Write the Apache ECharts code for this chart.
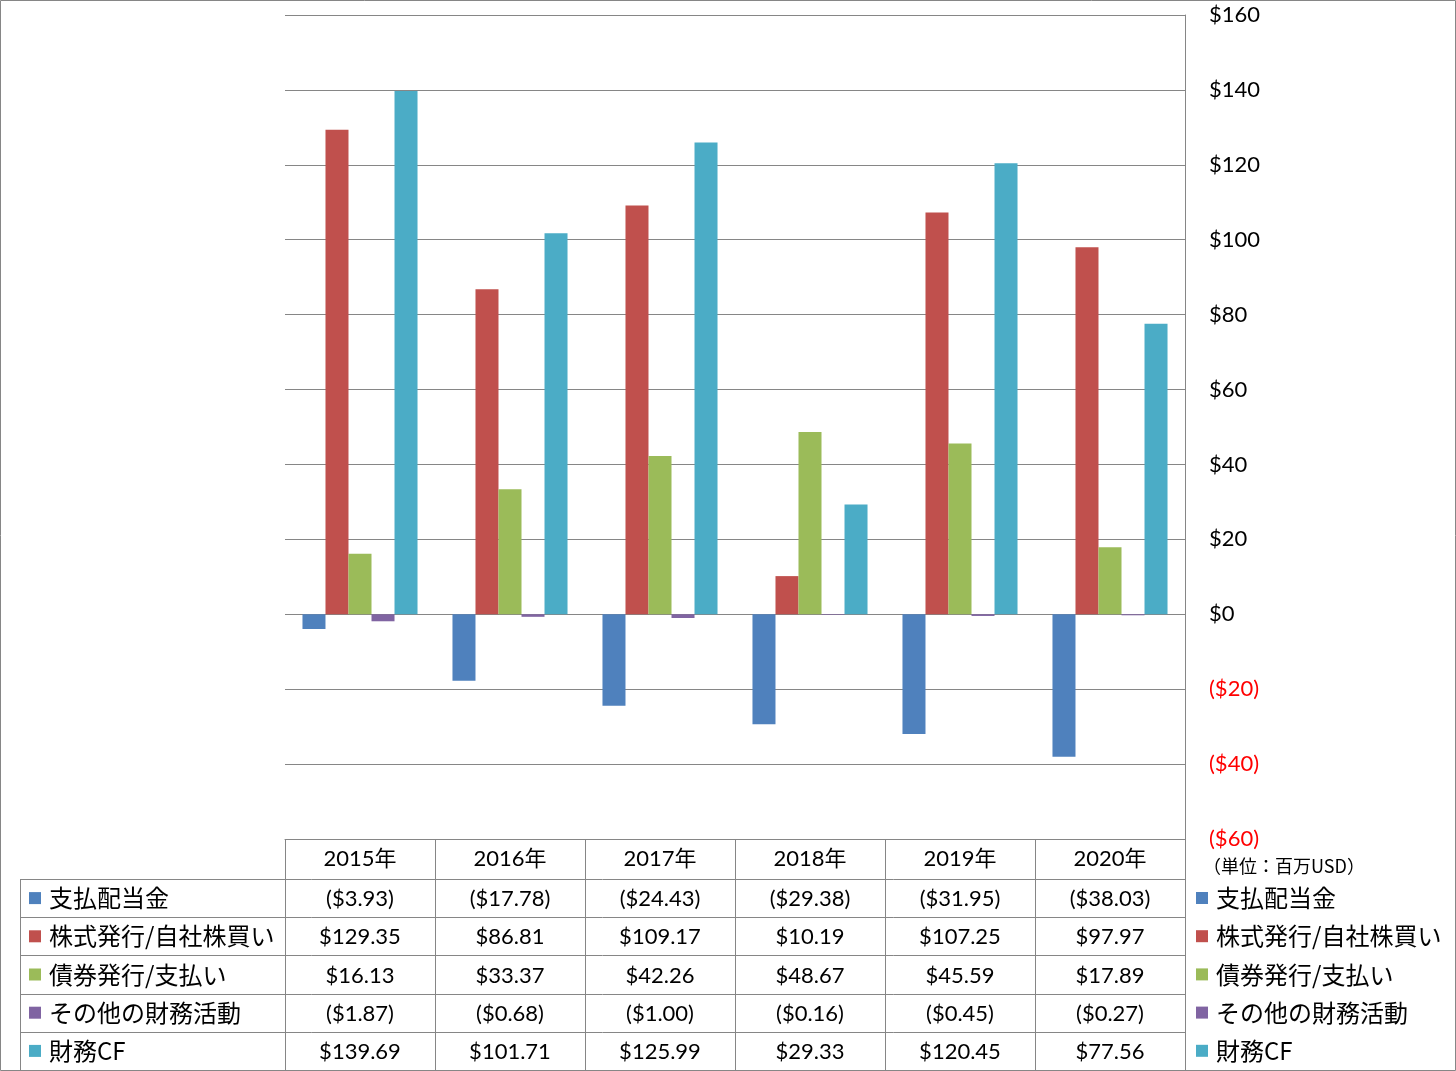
<!DOCTYPE html>
<html><head><meta charset="utf-8">
<script src="https://cdn.jsdelivr.net/npm/echarts@6/dist/echarts.min.js"></script>
<style>html,body{margin:0;padding:0;background:#fff}#c{width:1456px;height:1071px}</style>
</head><body><div id="c"></div>
<script>
const years = ['2015年','2016年','2017年','2018年','2019年','2020年'];
const seriesNames = ['支払配当金','株式発行/自社株買い','債券発行/支払い','その他の財務活動','財務CF'];
const dividends = [-3.93, -17.78, -24.43, -29.38, -31.95, -38.03];
const stockIssue = [129.35, 86.81, 109.17, 10.19, 107.25, 97.97];
const debtIssue = [16.13, 33.37, 42.26, 48.67, 45.59, 17.89];
const otherFin = [-1.87, -0.68, -1.00, -0.16, -0.45, -0.27];
const finCF = [139.69, 101.71, 125.99, 29.33, 120.45, 77.56];
const seriesData = [dividends, stockIssue, debtIssue, otherFin, finCF];
const colors = ['#4F81BD','#C0504D','#9BBB59','#8064A2','#4BACC6'];
const yMin = -60, yMax = 160, yStep = 20;
const unitLabel = '（単位：百万USD）';

const NUM_FONT = 'Lato, "Noto Sans CJK JP", sans-serif';
const JP_FONT = '"Noto Sans CJK JP", Lato, sans-serif';
const GRAY = '#868686';

function money(v, d){
  const s = '$' + Math.abs(v).toFixed(d);
  return v < 0 ? '(' + s + ')' : s;
}

const chart = echarts.init(document.getElementById('c'), null, {renderer:'canvas'});
const option = {
  animation:false,
  color: colors,
  grid:{left:285, right:271, top:15, bottom:232},
  legend:{
    orient:'vertical', left:1191, top:880,
    icon:'rect', itemWidth:12, itemHeight:12, itemGap:12.2,
    textStyle:{fontFamily:JP_FONT, fontSize:24, color:'#000', lineHeight:26, padding:[0,0,0,3]},
    data: seriesNames
  },
  xAxis:{
    type:'category', data: years, position:'bottom',
    axisLine:{onZero:false, lineStyle:{color:GRAY, width:1}},
    axisTick:{show:true, alignWithLabel:false, length:40, lineStyle:{color:GRAY}},
    axisLabel:{margin:9, fontFamily:NUM_FONT, fontSize:22, color:'#000'}
  },
  yAxis:{
    type:'value', position:'right', min:yMin, max:yMax, interval:yStep,
    axisLine:{show:true, lineStyle:{color:GRAY}},
    axisTick:{show:false},
    splitLine:{lineStyle:{color:GRAY, width:1}},
    axisLabel:{margin:24, fontFamily:NUM_FONT, fontSize:22,
      color:(v)=> Number(v) < 0 ? '#FF0000' : '#000',
      formatter:(v)=> money(v,0)}
  },
  series: seriesNames.map((n,i)=>({
    name:n, type:'bar', data:seriesData[i],
    barGap:'0%', barCategoryGap:'23.3%',
    itemStyle:{color:colors[i]}
  }))
};
chart.setOption(option);

// build the data table from arrays
const c0 = chart.convertToPixel({xAxisIndex:0}, 0);
const c1 = chart.convertToPixel({xAxisIndex:0}, 1);
const band = c1 - c0;
const xLeft = c0 - band/2;
const xRight = xLeft + band*years.length;
const yBottomAxis = chart.convertToPixel({yAxisIndex:0}, yMin);
const headerBottom = yBottomAxis + 40;
const rowH = 38.2;
const tableBottom = headerBottom + rowH*seriesNames.length;
const labelLeft = 20;

const g = [];
g.push({type:'rect', shape:{x:0.5,y:0.5,width:1455,height:1070}, style:{fill:null, stroke:GRAY, lineWidth:1}, silent:true});
for(let r=0;r<=seriesNames.length;r++){
  const y = Math.round(headerBottom + r*rowH) + 0.5;
  g.push({type:'line', shape:{x1:labelLeft, y1:y, x2:xRight, y2:y}, style:{stroke:GRAY, lineWidth:1}, silent:true});
}
const vx = [labelLeft];
for(let k=0;k<=years.length;k++) vx.push(xLeft + k*band);
vx.forEach(x=>{
  const xx = Math.round(x)+0.5;
  g.push({type:'line', shape:{x1:xx, y1:headerBottom, x2:xx, y2:tableBottom}, style:{stroke:GRAY, lineWidth:1}, silent:true});
});
seriesNames.forEach((n,r)=>{
  const cy = headerBottom + r*rowH + rowH/2;
  g.push({type:'rect', shape:{x:29, y:cy-6, width:12, height:12}, style:{fill:colors[r]}, silent:true});
  g.push({type:'text', x:49, y:cy, style:{text:n, fontFamily:JP_FONT, fontSize:24, fill:'#000', verticalAlign:'middle', align:'left'}, silent:true});
  seriesData[r].forEach((v,k)=>{
    const cx = chart.convertToPixel({xAxisIndex:0}, k);
    g.push({type:'text', x:cx, y:cy+1, style:{text:money(v,2), fontFamily:NUM_FONT, fontSize:22, fill:'#000', align:'center', verticalAlign:'middle'}, silent:true});
  });
});
g.push({type:'text', x:1203, y:866, style:{text:unitLabel, fontFamily:JP_FONT, fontSize:18, fill:'#000', verticalAlign:'middle'}, silent:true});
chart.setOption({graphic:g});
</script>
</body></html>
